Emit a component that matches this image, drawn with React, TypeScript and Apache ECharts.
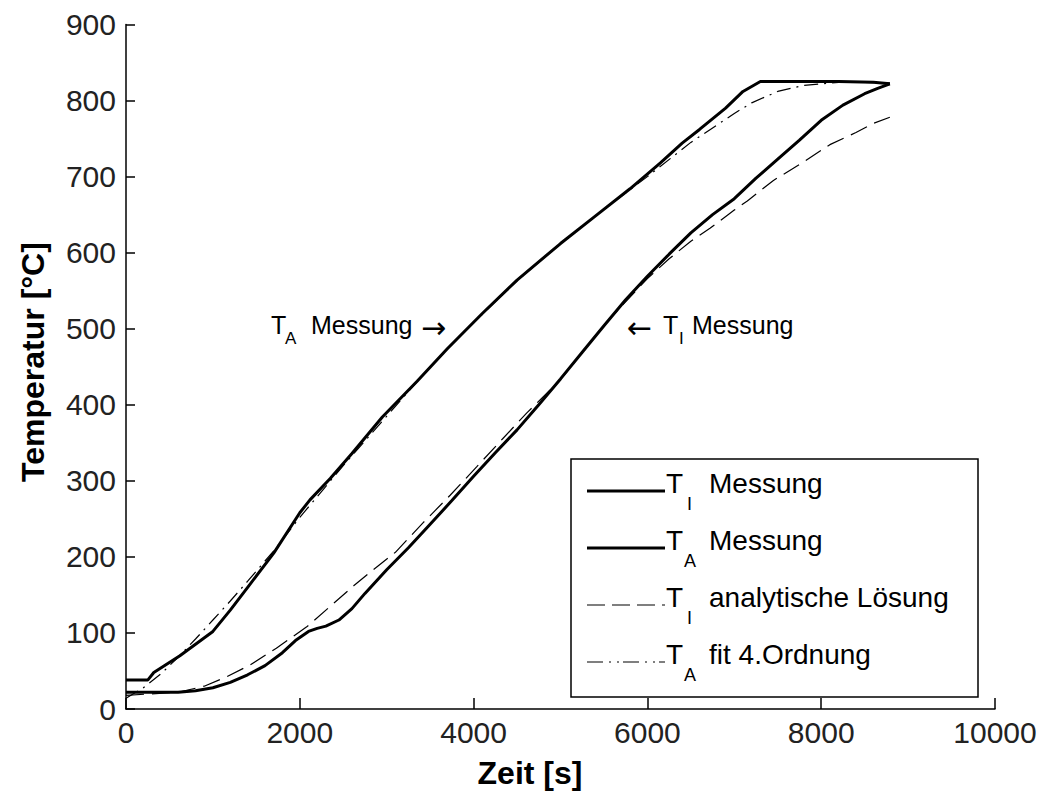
import React, { useEffect, useRef } from "react";
import * as echarts from "echarts";

// Zeit [s] / Temperatur [°C]
const tiMessungX = [0, 300, 600, 800, 1000, 1200, 1400, 1600, 1800, 1950, 2100, 2200, 2300, 2450, 2600, 2750, 3000, 3250, 3500, 3750, 4000, 4250, 4500, 4750, 5000, 5250, 5500, 5750, 6000, 6250, 6500, 6750, 7000, 7250, 7500, 7750, 8000, 8250, 8500, 8650, 8790];
const tiMessungY = [22, 22, 22, 24, 28, 35, 45, 57, 74, 90, 102, 106, 109, 117, 132, 152, 183, 212, 243, 274, 306, 337, 367, 400, 434, 469, 504, 538, 569, 598, 626, 650, 671, 698, 723, 748, 774, 794, 809, 816, 822];

const taMessungX = [0, 250, 320, 620, 1000, 1200, 1400, 1700, 2000, 2117, 2350, 2600, 2950, 3350, 3700, 4100, 4500, 5000, 5400, 5800, 6150, 6400, 6600, 6900, 7100, 7300, 7700, 8200, 8600, 8790];
const taMessungY = [38, 38, 48, 70, 102, 130, 160, 205, 258, 275, 303, 336, 384, 431, 474, 520, 564, 612, 648, 684, 718, 744, 762, 790, 812, 825, 825, 825, 824, 822];

const tiAnalytX = [0, 300, 600, 900, 1150, 1430, 1730, 2080, 2400, 2620, 2800, 3100, 3420, 3730, 4040, 4340, 4610, 5000, 5500, 6000, 6250, 6500, 6720, 7000, 7150, 7450, 7780, 8100, 8400, 8600, 8790];
const tiAnalytY = [18, 20, 22, 30, 42, 58, 80, 108, 140, 162, 179, 206, 245, 281, 319, 356, 389, 433, 505, 566, 592, 615, 632, 656, 668, 695, 718, 742, 758, 770, 778];

const taFitX = [0, 200, 400, 600, 800, 1000, 1200, 1400, 1700, 2000, 2500, 3000, 3500, 4000, 4500, 5000, 5500, 6000, 6500, 7000, 7200, 7500, 7800, 8200, 8500, 8790];
const taFitY = [14, 28, 46, 68, 92, 117, 142, 168, 208, 252, 320, 385, 450, 508, 563, 612, 657, 700, 745, 783, 797, 812, 820, 824, 824, 823];

const xTicks = [0, 2000, 4000, 6000, 8000, 10000];
const yTicks = [0, 100, 200, 300, 400, 500, 600, 700, 800, 900];

const pairs = (xs: number[], ys: number[]) => xs.map((x, i) => [x, ys[i]]);

const FONT = "'Liberation Sans', Arial, Helvetica, sans-serif";

function txt(text: string, x: number, y: number, size: number, extra: any = {}) {
  return {
    type: "text",
    x,
    y,
    z: 110,
    style: {
      text,
      fontSize: size,
      fontFamily: FONT,
      fill: "#000",
      textAlign: "left",
      textVerticalAlign: "middle",
      ...extra,
    },
  };
}

export default function App() {
  const ref = useRef<HTMLDivElement>(null);
  useEffect(() => {
    if (!ref.current) return;
    const chart = echarts.init(ref.current, null, { renderer: "svg" });

    const legendRows = [
      { y: 483, sub: "I", rest: "Messung", dash: "solid", w: 3 },
      { y: 540, sub: "A", rest: "Messung", dash: "solid", w: 3 },
      { y: 597, sub: "I", rest: "analytische Lösung", dash: [18, 7], w: 1.2 },
      { y: 654, sub: "A", rest: "fit 4.Ordnung", dash: [16, 6, 2, 6, 2, 4], w: 1.2 },
    ];

    const legendGraphics: any[] = [
      {
        type: "rect",
        z: 100,
        shape: { x: 571, y: 459, width: 407, height: 238 },
        style: { fill: "#fff", stroke: "#000", lineWidth: 1.5 },
      },
    ];
    legendRows.forEach((r) => {
      legendGraphics.push({
        type: "line",
        z: 105,
        shape: { x1: 587, y1: r.y + 8, x2: 665, y2: r.y + 8 },
        style: { stroke: "#000", lineWidth: r.w, lineDash: r.dash === "solid" ? null : r.dash },
      });
      legendGraphics.push(txt("T", 666, r.y, 28));
      legendGraphics.push(txt(r.sub, r.sub === "I" ? 687 : 684, r.y + 21, 18));
      legendGraphics.push(txt(r.rest, 709, r.y, 28));
    });

    const ARROW_FONT = "'DejaVu Sans', sans-serif";
    const annotations: any[] = [
      txt("T", 271, 325, 25),
      txt("A", 285, 338, 17),
      txt("Messung", 311, 325, 25),
      txt("→", 421, 327, 30, { fontFamily: ARROW_FONT }),
      txt("←", 627, 327, 30, { fontFamily: ARROW_FONT }),
      txt("T", 663, 325, 25),
      txt("I", 679, 338, 17),
      txt("Messung", 692, 325, 25),
      {
        type: "text",
        x: 33,
        y: 362,
        rotation: Math.PI / 2,
        z: 110,
        style: {
          text: "Temperatur [°C]",
          fontSize: 32,
          fontWeight: "bold",
          fontFamily: FONT,
          fill: "#000",
          textAlign: "center",
          textVerticalAlign: "middle",
        },
      },
      {
        type: "text",
        x: 530,
        y: 773,
        z: 110,
        style: {
          text: "Zeit [s]",
          fontSize: 32,
          fontWeight: "bold",
          fontFamily: FONT,
          fill: "#000",
          textAlign: "center",
          textVerticalAlign: "middle",
        },
      },
    ];

    const lineSeries = (name: string, data: number[][], width: number, type: any, z: number) => ({
      name,
      type: "line",
      data,
      showSymbol: false,
      symbol: "none",
      smooth: false,
      z,
      lineStyle: { color: "#000", width, type },
    });

    chart.setOption({
      animation: false,
      backgroundColor: "#fff",
      grid: { left: 126, right: 47, top: 24.5, bottom: 87 },
      xAxis: {
        type: "value",
        min: xTicks[0],
        max: xTicks[xTicks.length - 1],
        interval: 2000,
        axisLine: { show: true, lineStyle: { color: "#000", width: 1.5 } },
        axisTick: { show: true, inside: true, length: 11, lineStyle: { color: "#000", width: 1.5 } },
        splitLine: { show: false },
        axisLabel: {
          color: "#222",
          fontSize: 30,
          fontFamily: FONT,
          margin: 8,
          formatter: (v: number) => String(v),
        },
      },
      yAxis: {
        type: "value",
        min: yTicks[0],
        max: yTicks[yTicks.length - 1],
        interval: 100,
        axisLine: { show: true, lineStyle: { color: "#000", width: 1.5 } },
        axisTick: { show: true, inside: true, length: 9, lineStyle: { color: "#000", width: 1.5 } },
        splitLine: { show: false },
        axisLabel: {
          color: "#222",
          fontSize: 30,
          fontFamily: FONT,
          margin: 10,
          formatter: (v: number) => String(v),
        },
      },
      series: [
        lineSeries("T_I analytische Lösung", pairs(tiAnalytX, tiAnalytY), 1.2, [18, 8], 1),
        lineSeries("T_A fit 4.Ordnung", pairs(taFitX, taFitY), 1.2, [14, 6, 2, 6], 1),
        lineSeries("T_I Messung", pairs(tiMessungX, tiMessungY), 3, "solid", 2),
        lineSeries("T_A Messung", pairs(taMessungX, taMessungY), 3, "solid", 2),
      ],
      graphic: [...legendGraphics, ...annotations],
    });

    return () => chart.dispose();
  }, []);

  return (
    <div
      ref={ref}
      style={{ position: "absolute", left: 0, top: 0, width: 1042, height: 796, background: "#fff" }}
    />
  );
}
